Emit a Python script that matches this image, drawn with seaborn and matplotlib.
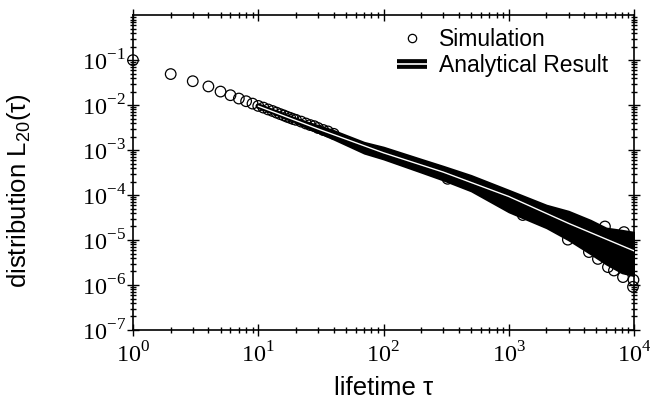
import numpy as np
import pandas as pd
import seaborn as sns
import matplotlib
matplotlib.use('Agg')
import matplotlib.pyplot as plt
import matplotlib.patheffects as pe
from matplotlib.lines import Line2D
from matplotlib.ticker import LogLocator, FuncFormatter, NullFormatter

# simulation: separate points at short lifetimes
sim_tau = [1, 2, 3, 4, 5, 6, 7, 8, 9, 10, 11, 12, 13, 14, 15, 16, 17, 18, 19, 20,
           22, 24, 26, 28, 30, 33, 36, 40]
sim_L = [0.1, 0.049, 0.034, 0.026, 0.020, 0.0166, 0.0140, 0.0122, 0.0108, 0.0096,
         0.0088, 0.0080, 0.0074, 0.0068, 0.0063, 0.0059, 0.0055, 0.0052, 0.0049, 0.0047,
         0.0043, 0.0039, 0.0036, 0.0034, 0.0031, 0.0028, 0.0026, 0.0023]

# simulation: dense cloud at long lifetimes (upper / lower edge)
band_tau = [20, 40, 70, 100, 200, 300, 500, 1000, 2000, 3000, 4500, 6000, 8000, 10000]
band_hi = [5.1e-3, 2.75e-3, 1.5e-3, 1.17e-3, 6.3e-4, 4.4e-4, 2.75e-4, 1.29e-4, 6.0e-5,
           4.4e-5, 2.77e-5, 1.86e-5, 1.66e-5, 1.5e-5]
band_lo = [4.0e-3, 1.74e-3, 8.5e-4, 6.3e-4, 3.2e-4, 2.14e-4, 1.23e-4, 4.2e-5, 1.86e-5,
           1.0e-5, 4.9e-6, 2.9e-6, 1.86e-6, 1.6e-6]

# single circles sticking out of the cloud
edge_tau = [325, 1294, 2965, 4365, 5152, 6194, 6918, 8166, 9817, 9900, 5861, 8318]
edge_L = [2.3e-4, 3.6e-5, 1.02e-5, 5.4e-6, 3.8e-6, 2.5e-6, 2.1e-6, 1.5e-6, 9.1e-7,
          1.3e-6, 2.0e-5, 1.5e-5]

# analytical result
ana_tau = [10, 30, 100, 300, 1000, 3000, 10000]
ana_L = [9.5e-3, 2.95e-3, 8.7e-4, 3.24e-4, 9.3e-5, 2.35e-5, 5.75e-6]

sns.set_theme(style='ticks')
plt.rcParams['font.family'] = ['Liberation Sans', 'DejaVu Sans']
plt.rcParams['mathtext.fontset'] = 'custom'
plt.rcParams['mathtext.rm'] = 'Liberation Serif'
plt.rcParams['mathtext.sf'] = 'Liberation Sans'
plt.rcParams['axes.unicode_minus'] = True
plt.rcParams['text.color'] = 'black'
plt.rcParams['axes.labelcolor'] = 'black'

fig = plt.figure(figsize=(6.5, 3.99), dpi=100)
ax = fig.add_axes([0.2046, 0.173, 0.7708, 0.789])

sim = pd.DataFrame({'tau': sim_tau, 'L': sim_L})
edge = pd.DataFrame({'tau': edge_tau, 'L': edge_L})
ana = pd.DataFrame({'tau': ana_tau, 'L': ana_L})

ax.fill_between(band_tau, band_lo, band_hi, color='black', ec='black', lw=1.2, zorder=2)
sns.scatterplot(data=sim, x='tau', y='L', ax=ax, marker='o', s=58,
                facecolor='none', edgecolor='black', linewidth=0.9,
                clip_on=False, zorder=3, legend=False)
sns.scatterplot(data=edge, x='tau', y='L', ax=ax, marker='o', s=58,
                facecolor='none', edgecolor='black', linewidth=0.9,
                clip_on=False, zorder=3, legend=False)
sns.lineplot(data=ana, x='tau', y='L', ax=ax, color='white', lw=1.0, zorder=4,
             path_effects=[pe.Stroke(linewidth=4, foreground='black'), pe.Normal()])

ax.set_xscale('log')
ax.set_yscale('log')
ax.set_xlim(1, 1e4)
ax.set_ylim(1e-7, 1)

fmt = FuncFormatter(lambda v, p: r'$10^{%d}$' % round(np.log10(v)))
ax.set_xticks([1, 10, 100, 1000, 10000])
ax.set_yticks([1e-7, 1e-6, 1e-5, 1e-4, 1e-3, 1e-2, 1e-1])
ax.xaxis.set_minor_locator(LogLocator(base=10, subs=np.arange(2, 10), numticks=20))
ax.yaxis.set_minor_locator(LogLocator(base=10, subs=np.arange(2, 10), numticks=20))
ax.xaxis.set_major_formatter(fmt)
ax.yaxis.set_major_formatter(fmt)
ax.xaxis.set_minor_formatter(NullFormatter())
ax.yaxis.set_minor_formatter(NullFormatter())

ax.tick_params(which='both', direction='inout', top=True, right=True,
               width=1, colors='black', labelsize=17.5)
ax.tick_params(which='major', length=8)
ax.tick_params(which='minor', length=4.5)
ax.tick_params(axis='x', pad=5)
ax.tick_params(axis='y', pad=1)
for s in ax.spines.values():
    s.set_linewidth(1.2)
    s.set_color('black')

ax.set_xlabel('lifetime τ', fontsize=18.5, labelpad=6)
ax.set_ylabel(r'distribution L$_{\mathsf{20}}$(τ)', fontsize=18.5)
ax.yaxis.set_label_coords(-0.2, 0.444)

h_sim = Line2D([], [], ls='none', marker='o', markersize=6, mfc='none', mec='black', mew=0.9)
h_ana = Line2D([], [], color='white', lw=1.2, solid_capstyle='butt',
               path_effects=[pe.Stroke(linewidth=7, foreground='black', capstyle='butt'),
                             pe.Normal()])
ax.legend([h_sim, h_ana], ['Simulation', 'Analytical Result'],
          loc='upper left', bbox_to_anchor=(0.527, 0.96), frameon=False,
          fontsize=16.5, borderpad=0, borderaxespad=0, handlelength=1.3,
          handletextpad=0.55, labelspacing=0.15)

fig.savefig('out.png', dpi=100)
